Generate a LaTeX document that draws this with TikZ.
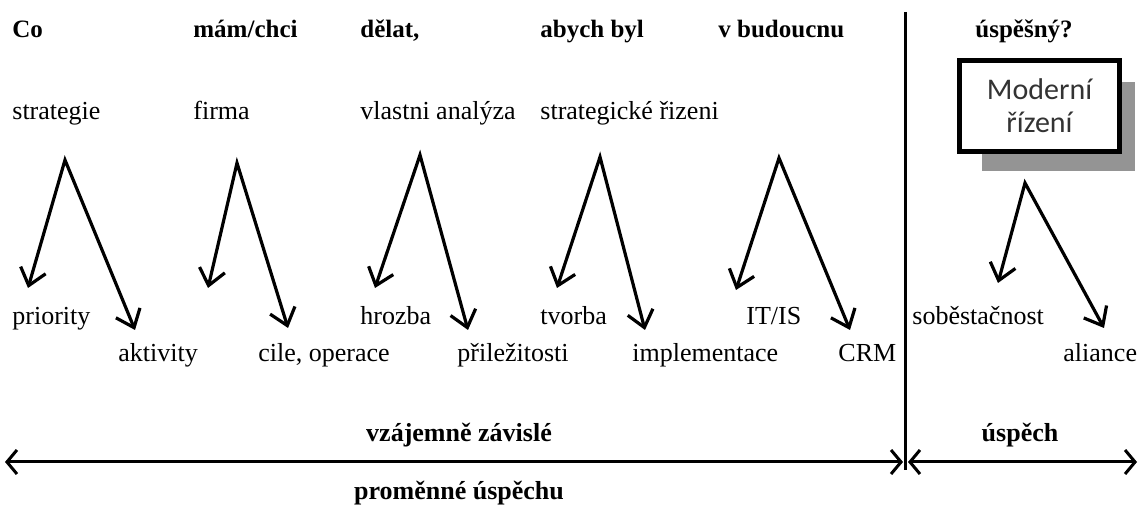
\documentclass[tikz,border=0pt]{standalone}
\usepackage{fontspec}
\setmainfont{Liberation Serif}
\newfontfamily\calib{Carlito}
\usetikzlibrary{arrows.meta}
\begin{document}
\begin{tikzpicture}[x=0.5pt,y=-0.5pt,% souradnice v pixelech
	txt/.style={anchor=base west,inner sep=0pt,font=\fontsize{13}{15}\selectfont},
	hlav/.style={anchor=base west,inner sep=0pt,font=\fontsize{12.5}{14}\selectfont\bfseries},
	dole/.style={anchor=base,inner sep=0pt,font=\fontsize{13}{15}\selectfont\bfseries},
	sip/.style={line width=1.6pt,{Straight Barb[length=8pt,width=13pt]}-{Straight Barb[length=8pt,width=13pt]}},
	osa/.style={line width=1.5pt,{Straight Barb[length=5pt,width=12pt]}-{Straight Barb[length=5pt,width=12pt]}}]
	\useasboundingbox (0,0) rectangle (1139,506);
	\def\vid#1#2#3#4{
		\coordinate (v#1) at (#2);
		\coordinate (l#1) at (#3);
		\coordinate (p#1) at (#4);
		\draw[sip] (l#1) -- (v#1) -- (p#1);
	}
	% nadpisy
	\node[hlav] (co) at (12,38) {Co};
	\node[hlav] (mam) at (193,38) {mám/chci};
	\node[hlav] (delat) at (360,38) {dělat,};
	\node[hlav] (abych) at (540,38) {abych byl};
	\node[hlav] (budoucnu) at (718,38) {v budoucnu};
	\node[hlav] (uspesny) at (975,38) {úspěšný?};
	\node[txt] (strategie) at (12,120) {strategie};
	\node[txt] (firma) at (193,120) {firma};
	\node[txt] (analyza) at (360,120) {vlastni analýza};
	\node[txt] (rizeni) at (540,120) {strategické řizeni};
	\fill[black!42] (982,82) rectangle (1135,171);
	\node[draw,line width=2.5pt,fill=white,minimum width=80pt,minimum height=45.5pt,
		align=center,text=black!80,font=\calib\fontsize{15}{16.5}\selectfont]
		(moderni) at (1039.5,106) {Moderní\\řízení};
	% vidlicky
	\vid{1}{65,160}{28,288}{135,330}
	\vid{2}{237,163}{208,288}{288,328}
	\vid{3}{420,155}{375,288}{468,330}
	\vid{4}{600,157}{557,288}{645,330}
	\vid{5}{779,158}{736,290}{850,330}
	\vid{6}{1025,183}{998,283}{1104,328}
	\node[txt] (priority) at (12,325) {priority};
	\node[txt] (hrozba) at (360,325) {hrozba};
	\node[txt] (tvorba) at (540,325) {tvorba};
	\node[txt] (itis) at (746,325) {IT/IS};
	\node[txt] (sobe) at (912,325) {soběstačnost};
	\node[txt] (aktivity) at (118,362) {aktivity};
	\node[txt] (cile) at (258,362) {cile, operace};
	\node[txt] (prilez) at (457,362) {přiležitosti};
	\node[txt] (impl) at (632,362) {implementace};
	\node[txt] (crm) at (838,362) {CRM};
	\node[txt] (aliance) at (1063,362) {aliance};
	% osa
	\draw[line width=1.5pt] (905,12) -- (905,470);
	\coordinate (a1) at (5,462);
	\coordinate (a2) at (903,462);
	\coordinate (a3) at (908,462);
	\coordinate (a4) at (1137,462);
	\draw[osa] (a1) -- (a2);
	\draw[osa] (a3) -- (a4);
	\node[dole] (zavisle) at (459,442) {vzájemně závislé};
	\node[dole] (uspech) at (1020,442) {úspěch};
	\node[dole] (promenne) at (459,500) {proměnné úspěchu};
\end{tikzpicture}
\end{document}
